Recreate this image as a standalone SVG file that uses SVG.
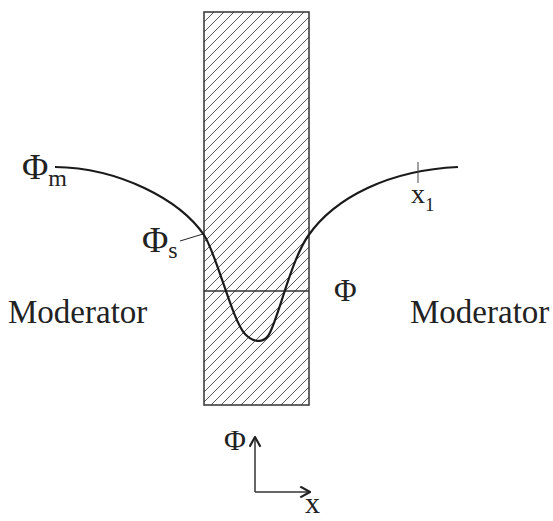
<svg xmlns="http://www.w3.org/2000/svg" width="553" height="521" viewBox="0 0 553 521">
<style>
.t{font-family:"Liberation Serif","Times New Roman",serif;fill:#222}
.ln{stroke:#333;stroke-width:1.5;fill:none}
.cv{stroke:#1a1a1a;stroke-width:2.2;fill:none}
</style>
<defs>
<pattern id="hatch" patternUnits="userSpaceOnUse" x="204" y="12" width="10" height="10">
<path d="M-1,1 L1,-1 M0,10 L10,0 M9,11 L11,9" stroke="#444" stroke-width="0.9"/>
</pattern>
<marker id="arr" viewBox="0 0 12 12" refX="11" refY="6" markerWidth="13" markerHeight="13" markerUnits="userSpaceOnUse" orient="auto">
<path d="M2,1 L11,6 L2,11" fill="none" stroke="#222" stroke-width="2"/>
</marker>
</defs>
<g id="slab">
<rect x="204" y="12" width="105" height="393" fill="url(#hatch)" stroke="#333" stroke-width="1.5"/>
<line x1="204" y1="291" x2="309" y2="291" class="ln"/>
</g>
<g id="connectors">
<path class="cv" d="M55,167 C120,168 180,200 204,235 C216,252.5 232,320 245,334 C252,341.5 262,344 268,336 C277,324 290,262 308,236 C335,197 390,170 458,167"/>
<line x1="180" y1="241" x2="203" y2="234" stroke="#222" stroke-width="1"/>
<line x1="418" y1="162" x2="418" y2="183" stroke="#444" stroke-width="1"/>
<line x1="255" y1="492" x2="255" y2="437" class="ln" marker-end="url(#arr)"/>
<line x1="255" y1="492" x2="310" y2="492" class="ln" marker-end="url(#arr)"/>
</g>
<g id="labels">
<text class="t" x="22" y="179" font-size="36">Φ<tspan font-size="24" dy="7">m</tspan></text>
<text class="t" x="142" y="252" font-size="36">Φ<tspan font-size="24" dy="6">s</tspan></text>
<text class="t" x="411" y="203" font-size="28">x<tspan font-size="19" dy="8">1</tspan></text>
<text class="t" x="334" y="301" font-size="31">Φ</text>
<text class="t" x="8" y="323" font-size="33">Moderator</text>
<text class="t" x="410" y="323" font-size="33">Moderator</text>
<text class="t" x="224" y="450" font-size="30">Φ</text>
<text class="t" x="305" y="513" font-size="30">x</text>
</g>
</svg>
